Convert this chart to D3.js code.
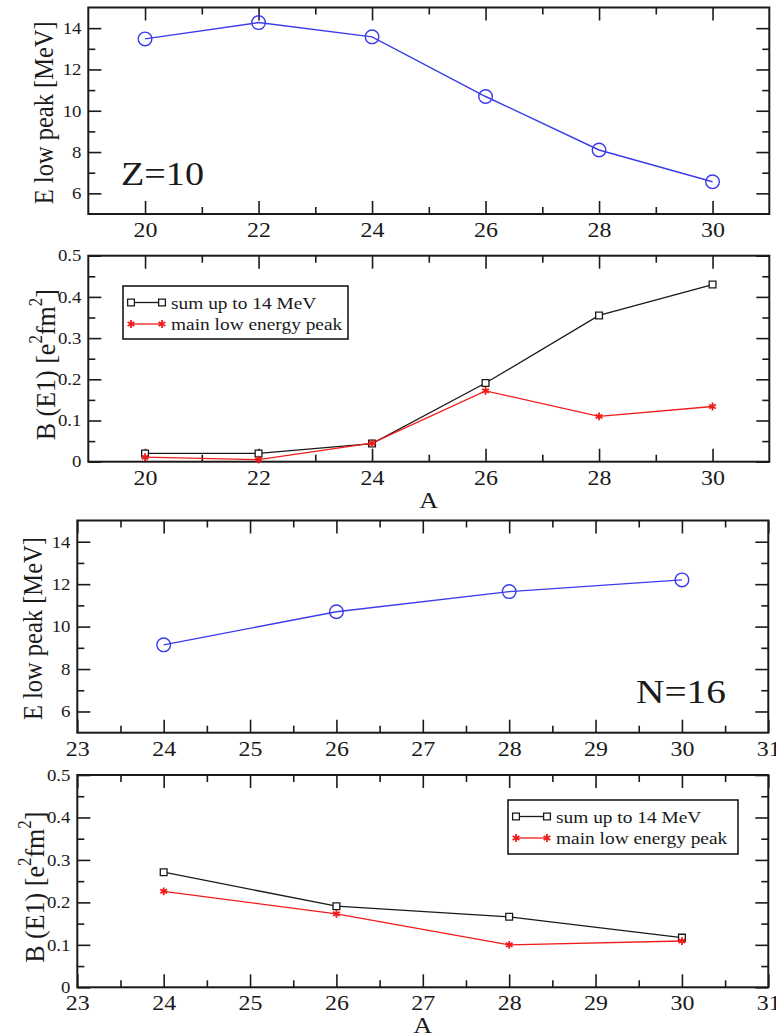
<!DOCTYPE html>
<html>
<head>
<meta charset="utf-8">
<script src="https://cdn.jsdelivr.net/npm/d3@7"></script>
<style>
  html, body { margin: 0; padding: 0; background: #fff; }
  svg { display: block; }
</style>
</head>
<body>
<svg id="chart" width="776" height="1035"></svg>
<script>
// ---- data: Z = 10 isotopes (neon) ----
const massZ10 = [20, 22, 24, 26, 28, 30];
const eLowZ10 = [13.48, 14.27, 13.58, 10.69, 8.1, 6.56];
const bSumZ10 = [0.020, 0.020, 0.044, 0.191, 0.355, 0.430];
const bPeakZ10 = [0.011, 0.005, 0.045, 0.172, 0.110, 0.134];

// ---- data: N = 16 isotones ----
const massN16 = [24, 26, 28, 30];
const eLowN16 = [9.14, 10.7, 11.65, 12.2];
const bSumN16 = [0.271, 0.191, 0.166, 0.117];
const bPeakN16 = [0.226, 0.173, 0.100, 0.109];

// ---- tick values ----
const ticksAZ10 = [20, 22, 24, 26, 28, 30];
const minorAZ10 = [21, 23, 25, 27, 29];
const ticksAN16 = [23, 24, 25, 26, 27, 28, 29, 30, 31];
const minorAN16 = [23.5, 24.5, 25.5, 26.5, 27.5, 28.5, 29.5, 30.5];
const ticksE = [6, 8, 10, 12, 14];
const minorE = [7, 9, 11, 13];
const ticksB = [0, 0.1, 0.2, 0.3, 0.4, 0.5];
const minorB = [0.05, 0.15, 0.25, 0.35, 0.45];

const legendLabels = ["sum up to 14 MeV", "main low energy peak"];
const panelLabels = ["Z=10", "N=16"];

const FONT = "'Liberation Serif', 'Times New Roman', 'DejaVu Serif', serif";
const SX = 1.14;           // glyphs are drawn slightly wide
const BLUE = "#3b3bee";
const RED = "#f01c1c";
const INK = "#1a1a1a";

const svg = d3.select("#chart");

function stretchedText(parent, x, y, str, size, anchor) {
  return parent.append("text")
    .attr("transform", `translate(${x},${y}) scale(${SX},1)`)
    .attr("text-anchor", anchor || "start")
    .style("font-family", FONT)
    .style("font-size", size + "px")
    .attr("fill", INK)
    .text(str);
}

function styleTicks(sel, size) {
  sel.select(".domain").remove();
  sel.attr("font-family", null).attr("font-size", null);
  sel.selectAll(".tick line").attr("stroke", INK).attr("stroke-width", 1.6);
  sel.selectAll(".tick text")
    .style("font-family", FONT)
    .style("font-size", size + "px")
    .attr("fill", INK)
    .attr("transform", `scale(${SX},1)`);
}

function panel(p) {
  const x = d3.scaleLinear().domain(p.xDomain).range([p.left, p.right]);
  const y = d3.scaleLinear().domain(p.yDomain).range([p.bottom, p.top]);
  const g = svg.append("g");

  const noLabel = () => "";
  // bottom: labelled majors + minors
  g.append("g").attr("transform", `translate(0,${p.bottom})`)
    .call(d3.axisBottom(x).tickValues(p.xMajor).tickSizeInner(-13).tickSizeOuter(0)
      .tickPadding(8).tickFormat(d3.format("d")))
    .call(s => styleTicks(s, 21));
  g.append("g").attr("transform", `translate(0,${p.bottom})`)
    .call(d3.axisBottom(x).tickValues(p.xMinor).tickSizeInner(-7).tickSizeOuter(0).tickFormat(noLabel))
    .call(s => styleTicks(s, 21));
  // top
  g.append("g").attr("transform", `translate(0,${p.top})`)
    .call(d3.axisTop(x).tickValues(p.xMajor).tickSizeInner(-13).tickSizeOuter(0).tickFormat(noLabel))
    .call(s => styleTicks(s, 21));
  g.append("g").attr("transform", `translate(0,${p.top})`)
    .call(d3.axisTop(x).tickValues(p.xMinor).tickSizeInner(-7).tickSizeOuter(0).tickFormat(noLabel))
    .call(s => styleTicks(s, 21));
  // left: labelled majors + minors
  g.append("g").attr("transform", `translate(${p.left},0)`)
    .call(d3.axisLeft(y).tickValues(p.yMajor).tickSizeInner(-13).tickSizeOuter(0)
      .tickPadding(6).tickFormat(p.yFormat))
    .call(s => styleTicks(s, 16.5));
  g.append("g").attr("transform", `translate(${p.left},0)`)
    .call(d3.axisLeft(y).tickValues(p.yMinor).tickSizeInner(-7).tickSizeOuter(0).tickFormat(noLabel))
    .call(s => styleTicks(s, 16.5));
  // right
  g.append("g").attr("transform", `translate(${p.right},0)`)
    .call(d3.axisRight(y).tickValues(p.yMajor).tickSizeInner(-13).tickSizeOuter(0).tickFormat(noLabel))
    .call(s => styleTicks(s, 16.5));
  g.append("g").attr("transform", `translate(${p.right},0)`)
    .call(d3.axisRight(y).tickValues(p.yMinor).tickSizeInner(-7).tickSizeOuter(0).tickFormat(noLabel))
    .call(s => styleTicks(s, 16.5));

  // frame
  g.append("rect")
    .attr("x", p.left).attr("y", p.top)
    .attr("width", p.right - p.left).attr("height", p.bottom - p.top)
    .attr("fill", "none").attr("stroke", INK).attr("stroke-width", 2);

  // y title (rotated)
  const cy = (p.top + p.bottom) / 2 + (p.yTitleShift || 0);
  const yt = g.append("text")
    .attr("transform", `translate(${p.yTitleX},${cy}) rotate(-90) scale(1,1.08)`)
    .attr("text-anchor", "middle")
    .attr("dy", "0.35em")
    .attr("fill", INK)
    .style("font-family", FONT)
    .style("font-size", p.yTitleSize + "px");
  p.yTitle.forEach(part => {
    const t = yt.append("tspan").text(part.t);
    if (part.sup) t.style("font-size", "17px").attr("dy", -12);
    if (part.down) t.attr("dy", 12);
  });

  // x title
  if (p.xTitleY) stretchedText(g, (p.left + p.right) / 2, p.xTitleY, "A", 23, "middle");

  return { g, x, y };
}

const eTitle = [{ t: "E low peak [MeV]" }];
const bTitle = [{ t: "B (E1) [e" }, { t: "2", sup: true }, { t: "fm", down: true },
                { t: "2", sup: true }, { t: "]", down: true }];
const fmtE = d3.format("d");
const fmtB = d => d === 0 ? "0" : d3.format(".1f")(d);

function eSeries(pn, xs, ys) {
  const pts = xs.map((a, i) => [pn.x(a), pn.y(ys[i])]);
  pn.g.append("path").attr("d", d3.line()(pts))
    .attr("fill", "none").attr("stroke", BLUE).attr("stroke-width", 1.4);
  pn.g.selectAll(null).data(pts).join("circle")
    .attr("cx", d => d[0]).attr("cy", d => d[1]).attr("r", 6.8)
    .attr("fill", "none").attr("stroke", BLUE).attr("stroke-width", 1.4);
}

const squareSym = d3.symbol().type(d3.symbolSquare).size(46);
const starSym = d3.symbol().type(d3.symbolAsterisk).size(42);

function sumMarks(parent, pts) {
  parent.selectAll(null).data(pts).join("path")
    .attr("transform", d => `translate(${d[0]},${d[1]})`)
    .attr("d", squareSym())
    .attr("fill", "#fff").attr("stroke", INK).attr("stroke-width", 1.3);
}
function peakMarks(parent, pts) {
  parent.selectAll(null).data(pts).join("path")
    .attr("transform", d => `translate(${d[0]},${d[1]})`)
    .attr("d", starSym())
    .attr("fill", "none").attr("stroke", RED).attr("stroke-width", 1.8);
}

function bSeries(pn, xs, sums, peaks) {
  const sp = xs.map((a, i) => [pn.x(a), pn.y(sums[i])]);
  const pp = xs.map((a, i) => [pn.x(a), pn.y(peaks[i])]);
  pn.g.append("path").attr("d", d3.line()(sp))
    .attr("fill", "none").attr("stroke", INK).attr("stroke-width", 1.3);
  sumMarks(pn.g, sp);
  pn.g.append("path").attr("d", d3.line()(pp))
    .attr("fill", "none").attr("stroke", RED).attr("stroke-width", 1.3);
  peakMarks(pn.g, pp);
}

function legend(parent, x0, y0, w, h) {
  const lg = parent.append("g");
  lg.append("rect").attr("x", x0).attr("y", y0).attr("width", w).attr("height", h)
    .attr("fill", "#fff").attr("stroke", INK).attr("stroke-width", 1.6);
  const rows = [y0 + 16.5, y0 + 38];
  // row 1: black squares
  lg.append("line").attr("x1", x0 + 8).attr("x2", x0 + 39).attr("y1", rows[0]).attr("y2", rows[0])
    .attr("stroke", INK).attr("stroke-width", 1.3);
  sumMarks(lg, [[x0 + 8, rows[0]], [x0 + 39, rows[0]]]);
  // row 2: red stars
  lg.append("line").attr("x1", x0 + 8).attr("x2", x0 + 39).attr("y1", rows[1]).attr("y2", rows[1])
    .attr("stroke", RED).attr("stroke-width", 1.3);
  peakMarks(lg, [[x0 + 8, rows[1]], [x0 + 39, rows[1]]]);
  legendLabels.forEach((s, i) => stretchedText(lg, x0 + 48, rows[i] + 6, s, 17, "start"));
}

// ---- panel 1: E low peak, Z = 10 ----
const p1 = panel({
  left: 88.3, right: 769.3, top: 7.5, bottom: 214,
  xDomain: [19, 31], yDomain: [5, 15],
  xMajor: ticksAZ10, xMinor: minorAZ10, yMajor: ticksE, yMinor: minorE,
  yFormat: fmtE, yTitle: eTitle, yTitleX: 44, yTitleSize: 24.5, yTitleShift: 2
});
eSeries(p1, massZ10, eLowZ10);
stretchedText(p1.g, 121, 185, panelLabels[0], 33.5, "start");

// ---- panel 2: B(E1), Z = 10 ----
const p2 = panel({
  left: 88.3, right: 769.3, top: 255.7, bottom: 461.7,
  xDomain: [19, 31], yDomain: [0, 0.5],
  xMajor: ticksAZ10, xMinor: minorAZ10, yMajor: ticksB, yMinor: minorB,
  yFormat: fmtB, yTitle: bTitle, yTitleX: 45, yTitleSize: 26, yTitleShift: 6, xTitleY: 508
});
bSeries(p2, massZ10, bSumZ10, bPeakZ10);
legend(p2.g, 123, 286, 225, 53);

// ---- panel 3: E low peak, N = 16 ----
const p3 = panel({
  left: 77.3, right: 768.3, top: 520.5, bottom: 732.7,
  xDomain: [23, 31], yDomain: [5, 15],
  xMajor: ticksAN16, xMinor: minorAN16, yMajor: ticksE, yMinor: minorE,
  yFormat: fmtE, yTitle: eTitle, yTitleX: 33, yTitleSize: 24.5, yTitleShift: 2
});
eSeries(p3, massN16, eLowN16);
stretchedText(p3.g, 636, 703, panelLabels[1], 34.5, "start");

// ---- panel 4: B(E1), N = 16 ----
const p4 = panel({
  left: 77.3, right: 768.3, top: 775, bottom: 987.3,
  xDomain: [23, 31], yDomain: [0, 0.5],
  xMajor: ticksAN16, xMinor: minorAN16, yMajor: ticksB, yMinor: minorB,
  yFormat: fmtB, yTitle: bTitle, yTitleX: 34, yTitleSize: 26, yTitleShift: 6, xTitleY: 1033
});
bSeries(p4, massN16, bSumN16, bPeakN16);
legend(p4.g, 508, 800, 230, 54);
</script>
</body>
</html>
